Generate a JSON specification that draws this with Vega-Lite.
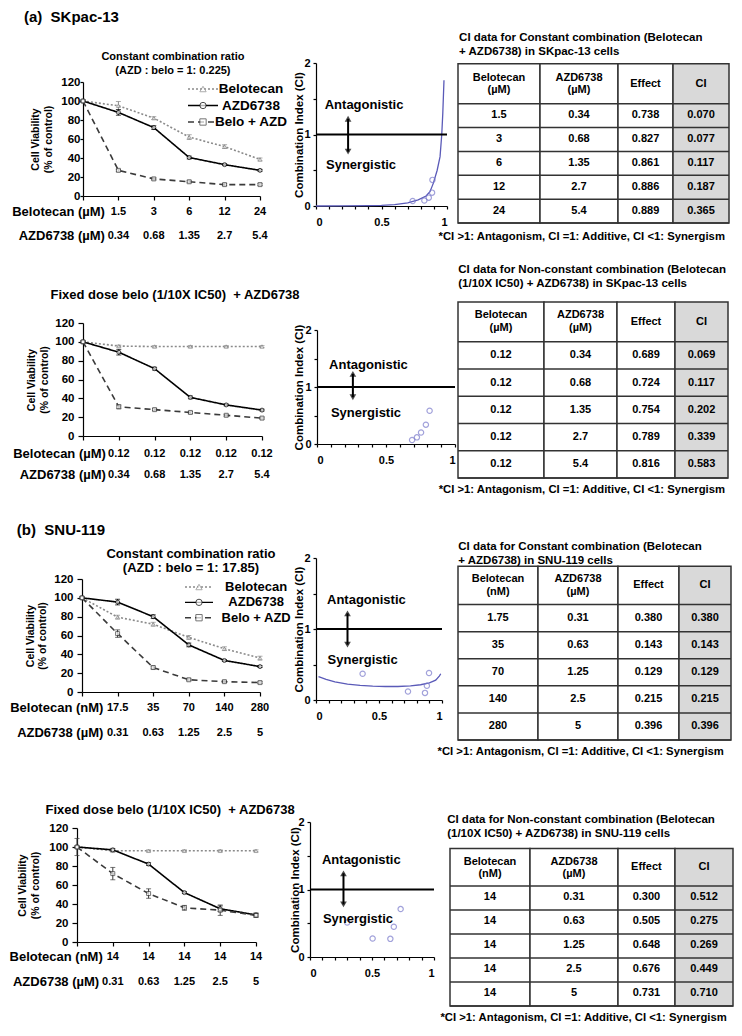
{
"$schema":"https://vega.github.io/schema/vega-lite/v6.json",
"width":742,"height":1036,"autosize":"none","padding":0,"background":"white",
"config":{"view":{"stroke":null},"font":"Liberation Sans",
 "axis":{"grid":false,"domainColor":"#000","tickColor":"#000","labelColor":"#000","titleColor":"#000","labelFont":"Liberation Sans","titleFont":"Liberation Sans","labelFontWeight":"bold","titleFontWeight":"bold","domainWidth":1.2,"tickWidth":1.2},
 "text":{"font":"Liberation Sans","fontWeight":"bold","color":"#000"}},
"datasets":{
"one":[{}],
"leg":[{"s":"Belotecan"},{"s":"AZD6738"},{"s":"Belo + AZD"}],
"L1":[
{"i":0,"s":"Belotecan","v":100,"lo":99,"hi":101},{"i":1,"s":"Belotecan","v":95,"lo":90.5,"hi":99.5},{"i":2,"s":"Belotecan","v":82,"lo":80.5,"hi":83.5},{"i":3,"s":"Belotecan","v":62,"lo":59.5,"hi":64.5},{"i":4,"s":"Belotecan","v":52,"lo":50,"hi":54},{"i":5,"s":"Belotecan","v":38.5,"lo":37,"hi":40},
{"i":0,"s":"AZD6738","v":100,"lo":99,"hi":101},{"i":1,"s":"AZD6738","v":88,"lo":85,"hi":91},{"i":2,"s":"AZD6738","v":72,"lo":70,"hi":74},{"i":3,"s":"AZD6738","v":40.5,"lo":39,"hi":42},{"i":4,"s":"AZD6738","v":33,"lo":32,"hi":34},{"i":5,"s":"AZD6738","v":27,"lo":26,"hi":28},
{"i":0,"s":"Belo + AZD","v":100,"lo":99,"hi":101},{"i":1,"s":"Belo + AZD","v":27,"lo":26,"hi":28},{"i":2,"s":"Belo + AZD","v":18,"lo":17,"hi":19},{"i":3,"s":"Belo + AZD","v":15,"lo":14,"hi":16},{"i":4,"s":"Belo + AZD","v":12,"lo":11,"hi":13},{"i":5,"s":"Belo + AZD","v":12,"lo":11,"hi":13}],
"L2":[
{"i":0,"s":"Belotecan","v":100,"lo":99,"hi":101},{"i":1,"s":"Belotecan","v":95.5,"lo":94.5,"hi":96.5},{"i":2,"s":"Belotecan","v":95,"lo":94,"hi":96},{"i":3,"s":"Belotecan","v":95,"lo":94,"hi":96},{"i":4,"s":"Belotecan","v":95,"lo":94,"hi":96},{"i":5,"s":"Belotecan","v":95,"lo":94,"hi":96},
{"i":0,"s":"AZD6738","v":100,"lo":99,"hi":101},{"i":1,"s":"AZD6738","v":89,"lo":86,"hi":92},{"i":2,"s":"AZD6738","v":71.5,"lo":70,"hi":73},{"i":3,"s":"AZD6738","v":41,"lo":39.5,"hi":42.5},{"i":4,"s":"AZD6738","v":33,"lo":32,"hi":34},{"i":5,"s":"AZD6738","v":27.5,"lo":26.5,"hi":28.5},
{"i":0,"s":"Belo + AZD","v":100,"lo":99,"hi":101},{"i":1,"s":"Belo + AZD","v":31,"lo":29,"hi":33},{"i":2,"s":"Belo + AZD","v":28,"lo":27,"hi":29},{"i":3,"s":"Belo + AZD","v":25,"lo":24,"hi":26},{"i":4,"s":"Belo + AZD","v":22,"lo":21,"hi":23},{"i":5,"s":"Belo + AZD","v":19,"lo":18,"hi":20}],
"L3":[
{"i":0,"s":"Belotecan","v":100,"lo":98.5,"hi":101.5},{"i":1,"s":"Belotecan","v":79.5,"lo":77.5,"hi":81.5},{"i":2,"s":"Belotecan","v":72,"lo":70,"hi":74},{"i":3,"s":"Belotecan","v":58,"lo":56,"hi":60},{"i":4,"s":"Belotecan","v":46,"lo":44,"hi":48},{"i":5,"s":"Belotecan","v":36,"lo":34,"hi":38},
{"i":0,"s":"AZD6738","v":100,"lo":99,"hi":101},{"i":1,"s":"AZD6738","v":95.5,"lo":92.5,"hi":98.5},{"i":2,"s":"AZD6738","v":80,"lo":78,"hi":82},{"i":3,"s":"AZD6738","v":50,"lo":48,"hi":52},{"i":4,"s":"AZD6738","v":33.5,"lo":32.5,"hi":34.5},{"i":5,"s":"AZD6738","v":27,"lo":26,"hi":28},
{"i":0,"s":"Belo + AZD","v":100,"lo":99,"hi":101},{"i":1,"s":"Belo + AZD","v":62,"lo":58,"hi":66},{"i":2,"s":"Belo + AZD","v":26,"lo":24.5,"hi":27.5},{"i":3,"s":"Belo + AZD","v":13,"lo":12,"hi":14},{"i":4,"s":"Belo + AZD","v":11,"lo":10,"hi":12},{"i":5,"s":"Belo + AZD","v":10,"lo":9,"hi":11}],
"L4":[
{"i":0,"s":"Belotecan","v":100,"lo":99,"hi":101},{"i":1,"s":"Belotecan","v":96,"lo":95,"hi":97},{"i":2,"s":"Belotecan","v":96,"lo":95,"hi":97},{"i":3,"s":"Belotecan","v":96,"lo":95,"hi":97},{"i":4,"s":"Belotecan","v":96,"lo":95,"hi":97},{"i":5,"s":"Belotecan","v":96,"lo":95,"hi":97},
{"i":0,"s":"AZD6738","v":100,"lo":99,"hi":101},{"i":1,"s":"AZD6738","v":97,"lo":95.5,"hi":98.5},{"i":2,"s":"AZD6738","v":82,"lo":80.5,"hi":83.5},{"i":3,"s":"AZD6738","v":52,"lo":51,"hi":53},{"i":4,"s":"AZD6738","v":35,"lo":32,"hi":38},{"i":5,"s":"AZD6738","v":28.5,"lo":26.5,"hi":30.5},
{"i":0,"s":"Belo + AZD","v":100,"lo":91,"hi":109},{"i":1,"s":"Belo + AZD","v":72,"lo":65.5,"hi":78.5},{"i":2,"s":"Belo + AZD","v":51,"lo":46,"hi":56},{"i":3,"s":"Belo + AZD","v":36,"lo":33.5,"hi":38.5},{"i":4,"s":"Belo + AZD","v":33.5,"lo":28,"hi":39},{"i":5,"s":"Belo + AZD","v":28,"lo":26,"hi":30}],
"L1lab":[{"i":1,"b":1.5,"a":0.34},{"i":2,"b":3,"a":0.68},{"i":3,"b":6,"a":1.35},{"i":4,"b":12,"a":2.7},{"i":5,"b":24,"a":5.4}],
"L2lab":[{"i":1,"b":0.12,"a":0.34},{"i":2,"b":0.12,"a":0.68},{"i":3,"b":0.12,"a":1.35},{"i":4,"b":0.12,"a":2.7},{"i":5,"b":0.12,"a":5.4}],
"L3lab":[{"i":1,"b":17.5,"a":0.31},{"i":2,"b":35,"a":0.63},{"i":3,"b":70,"a":1.25},{"i":4,"b":140,"a":2.5},{"i":5,"b":280,"a":5}],
"L4lab":[{"i":1,"b":14,"a":0.31},{"i":2,"b":14,"a":0.63},{"i":3,"b":14,"a":1.25},{"i":4,"b":14,"a":2.5},{"i":5,"b":14,"a":5}],
"T1":[{"r":1,"b":1.5,"a":0.34,"eff":0.738,"ci":0.070},{"r":2,"b":3,"a":0.68,"eff":0.827,"ci":0.077},{"r":3,"b":6,"a":1.35,"eff":0.861,"ci":0.117},{"r":4,"b":12,"a":2.7,"eff":0.886,"ci":0.187},{"r":5,"b":24,"a":5.4,"eff":0.889,"ci":0.365}],
"T2":[{"r":1,"b":0.12,"a":0.34,"eff":0.689,"ci":0.069},{"r":2,"b":0.12,"a":0.68,"eff":0.724,"ci":0.117},{"r":3,"b":0.12,"a":1.35,"eff":0.754,"ci":0.202},{"r":4,"b":0.12,"a":2.7,"eff":0.789,"ci":0.339},{"r":5,"b":0.12,"a":5.4,"eff":0.816,"ci":0.583}],
"T3":[{"r":1,"b":1.75,"a":0.31,"eff":0.380,"ci":0.380},{"r":2,"b":35,"a":0.63,"eff":0.143,"ci":0.143},{"r":3,"b":70,"a":1.25,"eff":0.129,"ci":0.129},{"r":4,"b":140,"a":2.5,"eff":0.215,"ci":0.215},{"r":5,"b":280,"a":5,"eff":0.396,"ci":0.396}],
"T4":[{"r":1,"b":14,"a":0.31,"eff":0.300,"ci":0.512},{"r":2,"b":14,"a":0.63,"eff":0.505,"ci":0.275},{"r":3,"b":14,"a":1.25,"eff":0.648,"ci":0.269},{"r":4,"b":14,"a":2.5,"eff":0.676,"ci":0.449},{"r":5,"b":14,"a":5,"eff":0.731,"ci":0.710}],
"C1c":[{"fa":0,"ci":0},{"fa":0.2,"ci":0.001},{"fa":0.4,"ci":0.005},{"fa":0.5,"ci":0.01},{"fa":0.6,"ci":0.02},{"fa":0.7,"ci":0.045},{"fa":0.78,"ci":0.085},{"fa":0.84,"ci":0.14},{"fa":0.87,"ci":0.2},{"fa":0.896,"ci":0.32},{"fa":0.925,"ci":0.5},{"fa":0.947,"ci":0.69},{"fa":0.96,"ci":1.0},{"fa":0.968,"ci":1.3},{"fa":0.977,"ci":1.76}],
"C3c":[{"fa":0.02,"ci":0.33},{"fa":0.08,"ci":0.29},{"fa":0.15,"ci":0.255},{"fa":0.25,"ci":0.225},{"fa":0.35,"ci":0.205},{"fa":0.45,"ci":0.195},{"fa":0.55,"ci":0.19},{"fa":0.65,"ci":0.19},{"fa":0.75,"ci":0.2},{"fa":0.83,"ci":0.215},{"fa":0.9,"ci":0.24},{"fa":0.95,"ci":0.28},{"fa":0.98,"ci":0.34},{"fa":0.99,"ci":0.37}],
"C3p":[{"fa":0.37,"ci":0.37},{"fa":0.73,"ci":0.12},{"fa":0.865,"ci":0.1},{"fa":0.88,"ci":0.2},{"fa":0.897,"ci":0.38}]
},
"resolve":{"scale":{"x":"independent","y":"independent"}},
"layer":[
{"layer":[
 {"data":{"name":"L1"},"mark":{"type":"line","strokeWidth":1.6},
  "encoding":{
   "x":{"field":"i","type":"quantitative","scale":{"domain":[0,5],"range":[83,260]},"axis":{"orient":"bottom","offset":-840,"values":[0,1,2,3,4,5],"labels":false,"tickSize":4,"title":null}},
   "y":{"field":"v","type":"quantitative","scale":{"domain":[0,120],"range":[196,82]},"axis":{"orient":"left","offset":-83,"values":[0,20,40,60,80,100,120],"tickSize":3,"labelPadding":0,"labelFontSize":11.5,"title":["Cell Viability","(% of control)"],"titleFontSize":10.5,"titleLineHeight":12.5,"titleX":-42.5}},
   "color":{"field":"s","type":"nominal","scale":{"domain":["Belotecan","AZD6738","Belo + AZD"],"range":["#8a8a8a","#000000","#3a3a3a"]},"legend":null},
   "strokeDash":{"field":"s","type":"nominal","scale":{"domain":["Belotecan","AZD6738","Belo + AZD"],"range":[[2,2],[1,0],[6,4]]},"legend":null}}},
 {"data":{"name":"L1"},"mark":{"type":"rule","strokeWidth":1},
  "encoding":{"x":{"field":"i","type":"quantitative"},"y":{"field":"lo","type":"quantitative"},"y2":{"field":"hi"},"color":{"field":"s","type":"nominal","legend":null}}},
 {"data":{"name":"L1"},"mark":{"type":"tick","orient":"horizontal","size":5,"thickness":1},
  "encoding":{"x":{"field":"i","type":"quantitative"},"y":{"field":"lo","type":"quantitative"},"color":{"field":"s","type":"nominal","legend":null}}},
 {"data":{"name":"L1"},"mark":{"type":"tick","orient":"horizontal","size":5,"thickness":1},
  "encoding":{"x":{"field":"i","type":"quantitative"},"y":{"field":"hi","type":"quantitative"},"color":{"field":"s","type":"nominal","legend":null}}},
 {"data":{"name":"L1"},"mark":{"type":"point","filled":false,"fill":"white","size":16,"strokeWidth":1},
  "encoding":{"x":{"field":"i","type":"quantitative"},"y":{"field":"v","type":"quantitative"},"color":{"field":"s","type":"nominal","legend":null},"shape":{"field":"s","type":"nominal","scale":{"domain":["Belotecan","AZD6738","Belo + AZD"],"range":["triangle-up","circle","square"]},"legend":null}}},
 {"data":{"name":"L1lab"},"mark":{"type":"text","fontSize":11,"baseline":"middle"},
  "encoding":{"x":{"field":"i","type":"quantitative"},"y":{"datum":-16.8},"text":{"field":"b","type":"nominal"}}},
 {"data":{"name":"L1lab"},"mark":{"type":"text","fontSize":11,"baseline":"middle"},
  "encoding":{"x":{"field":"i","type":"quantitative"},"y":{"datum":-42},"text":{"field":"a","type":"nominal"}}},
 {"data":{"name":"one"},"mark":{"type":"text","text":"Belotecan (µM)","fontSize":13,"align":"right","baseline":"middle"},
  "encoding":{"x":{"datum":0.62},"y":{"datum":-16.8}}},
 {"data":{"name":"one"},"mark":{"type":"text","text":"AZD6738 (µM)","fontSize":13,"align":"right","baseline":"middle"},
  "encoding":{"x":{"datum":0.62},"y":{"datum":-42}}},
 {"data":{"name":"one"},"mark":{"type":"text","text":["Constant combination ratio","(AZD : belo = 1: 0.225)"],"fontSize":11,"lineHeight":13.5,"align":"center","baseline":"middle"},
  "encoding":{"x":{"datum":2.54},"y":{"datum":146.3}}},
 {"data":{"name":"one"},"mark":{"type":"text","text":"(a)\u00a0 SKpac-13","fontSize":15,"align":"left","baseline":"middle"},
  "encoding":{"x":{"datum":-1.67},"y":{"datum":188.4}}}
]},
{"data":{"name":"leg"},
 "encoding":{"y":{"field":"s","type":"nominal","scale":{"type":"point","domain":["Belotecan","AZD6738","Belo + AZD"],"range":[89,122],"padding":0},"axis":null}},
 "layer":[
  {"mark":{"type":"rule","strokeWidth":1.4},"encoding":{"x":{"datum":0,"scale":{"domain":[0,1],"range":[188,218]},"axis":null},"x2":{"datum":1},"color":{"field":"s","type":"nominal","legend":null},"strokeDash":{"field":"s","type":"nominal","legend":null}}},
  {"mark":{"type":"point","filled":false,"fill":"white","size":40,"strokeWidth":1},"encoding":{"x":{"datum":0.5,"axis":null},"color":{"field":"s","type":"nominal","legend":null},"shape":{"field":"s","type":"nominal","legend":null}}},
  {"mark":{"type":"text","fontSize":13.5,"align":"center","baseline":"middle"},"encoding":{"x":{"datum":2.1,"axis":null},"text":{"field":"s","type":"nominal"}}}
 ]},
{"layer":[
 {"data":{"name":"C1c"},"mark":{"type":"line","color":"#5a5ab8","strokeWidth":1.3},
  "encoding":{
   "x":{"field":"fa","type":"quantitative","scale":{"domain":[0,1],"range":[316,447]},"axis":{"orient":"bottom","offset":-830,"values":[0,0.1,0.2,0.3,0.4,0.5,0.6,0.7,0.8,0.9,1],"format":"~g","labelExpr":"datum.value == 0 || datum.value == 0.5 || datum.value == 1 ? datum.label : ''","labelOverlap":false,"tickSize":3,"labelFontSize":11,"labelPadding":7,"title":null}},
   "y":{"field":"ci","type":"quantitative","scale":{"domain":[0,2],"range":[206,63]},"axis":{"orient":"left","offset":-316,"values":[0,0.5,1,1.5,2],"format":"~g","labelExpr":"datum.value == 0 || datum.value == 1 || datum.value == 2 ? datum.label : ''","labelOverlap":false,"tickSize":3,"labelFontSize":11,"labelPadding":3,"title":"Combination Index (CI)","titleFontSize":11.5,"titleX":-14,"titleBaseline":"alphabetic"}}}},
 {"data":{"name":"T1"},"mark":{"type":"point","filled":false,"color":"#7b7bcc","size":28,"strokeWidth":1.2},"encoding":{"x":{"field":"eff","type":"quantitative"},"y":{"field":"ci","type":"quantitative"}}},
 {"data":{"name":"one"},"mark":{"type":"rule","color":"#000","strokeWidth":2},"encoding":{"x":{"datum":0},"x2":{"datum":1},"y":{"datum":1}}},
 {"data":{"name":"one"},"mark":{"type":"rule","color":"#000","strokeWidth":2},"encoding":{"x":{"datum":0.245},"y":{"datum":0.76},"y2":{"datum":1.22}}},
 {"data":{"name":"one"},"mark":{"type":"point","shape":"triangle-up","filled":true,"color":"#000","size":45},"encoding":{"x":{"datum":0.245},"y":{"datum":1.22}}},
 {"data":{"name":"one"},"mark":{"type":"point","shape":"triangle-down","filled":true,"color":"#000","size":45},"encoding":{"x":{"datum":0.245},"y":{"datum":0.76}}},
 {"data":{"name":"one"},"mark":{"type":"text","text":"Antagonistic","fontSize":13,"align":"center","baseline":"middle"},"encoding":{"x":{"datum":0.367},"y":{"datum":1.41}}},
 {"data":{"name":"one"},"mark":{"type":"text","text":"Synergistic","fontSize":13,"align":"center","baseline":"middle"},"encoding":{"x":{"datum":0.344},"y":{"datum":0.573}}}
]},
{"layer":[
 {"data":{"name":"one"},"mark":{"type":"rect","fill":"white","stroke":"#333","strokeWidth":1.5},"encoding":{"x":{"datum":0,"scale":{"domain":[0,1],"range":[458,729]},"axis":null},"x2":{"datum":0.3026},"y":{"datum":-1.68,"scale":{"domain":[-1.68,5],"range":[56,223]},"axis":null},"y2":{"datum":5}}},
 {"data":{"name":"one"},"mark":{"type":"rect","fill":"white","stroke":"#333","strokeWidth":1.5},"encoding":{"x":{"datum":0.3026,"axis":null},"x2":{"datum":0.5904},"y":{"datum":-1.68,"axis":null},"y2":{"datum":5}}},
 {"data":{"name":"one"},"mark":{"type":"rect","fill":"white","stroke":"#333","strokeWidth":1.5},"encoding":{"x":{"datum":0.5904,"axis":null},"x2":{"datum":0.7934},"y":{"datum":-1.68,"axis":null},"y2":{"datum":5}}},
 {"data":{"name":"one"},"mark":{"type":"rect","fill":"#d9d9d9","stroke":"#333","strokeWidth":1.5},"encoding":{"x":{"datum":0.7934,"axis":null},"x2":{"datum":1},"y":{"datum":-1.68,"axis":null},"y2":{"datum":5}}},
 {"data":{"name":"one"},"mark":{"type":"rule","color":"#333","strokeWidth":1.5},"encoding":{"x":{"datum":0,"axis":null},"x2":{"datum":1},"y":{"datum":0,"axis":null}}},
 {"data":{"name":"T1"},"mark":{"type":"rule","color":"#333","strokeWidth":1.5},"encoding":{"x":{"datum":0,"axis":null},"x2":{"datum":1},"y":{"field":"r","type":"quantitative","axis":null}}},
 {"data":{"name":"one"},"mark":{"type":"text","text":["Belotecan","(µM)"],"fontSize":11,"lineHeight":12.5,"baseline":"middle"},"encoding":{"x":{"datum":0.1513,"axis":null},"y":{"datum":-1.092,"axis":null}}},
 {"data":{"name":"one"},"mark":{"type":"text","text":["AZD6738","(µM)"],"fontSize":11,"lineHeight":12.5,"baseline":"middle"},"encoding":{"x":{"datum":0.4465,"axis":null},"y":{"datum":-1.092,"axis":null}}},
 {"data":{"name":"one"},"mark":{"type":"text","text":"Effect","fontSize":11,"baseline":"middle"},"encoding":{"x":{"datum":0.6919,"axis":null},"y":{"datum":-0.84,"axis":null}}},
 {"data":{"name":"one"},"mark":{"type":"text","text":"CI","fontSize":11,"baseline":"middle"},"encoding":{"x":{"datum":0.8967,"axis":null},"y":{"datum":-0.84,"axis":null}}},
 {"data":{"name":"T1"},"mark":{"type":"text","fontSize":11,"baseline":"middle","dy":-12.5},"encoding":{"x":{"datum":0.1513,"axis":null},"y":{"field":"r","type":"quantitative","axis":null},"text":{"field":"b","type":"nominal"}}},
 {"data":{"name":"T1"},"mark":{"type":"text","fontSize":11,"baseline":"middle","dy":-12.5},"encoding":{"x":{"datum":0.4465,"axis":null},"y":{"field":"r","type":"quantitative","axis":null},"text":{"field":"a","type":"nominal"}}},
 {"data":{"name":"T1"},"mark":{"type":"text","fontSize":11,"baseline":"middle","dy":-12.5},"encoding":{"x":{"datum":0.6919,"axis":null},"y":{"field":"r","type":"quantitative","axis":null},"text":{"field":"eff","type":"quantitative","format":".3f"}}},
 {"data":{"name":"T1"},"mark":{"type":"text","fontSize":11,"baseline":"middle","dy":-12.5},"encoding":{"x":{"datum":0.8967,"axis":null},"y":{"field":"r","type":"quantitative","axis":null},"text":{"field":"ci","type":"quantitative","format":".3f"}}},
 {"data":{"name":"one"},"mark":{"type":"text","text":["CI data for Constant combination (Belotecan","+ AZD6738) in SKpac-13 cells"],"fontSize":11.5,"lineHeight":14,"align":"left","baseline":"middle"},"encoding":{"x":{"datum":0.004,"axis":null},"y":{"datum":-2.76,"axis":null}}},
 {"data":{"name":"one"},"mark":{"type":"text","text":"*CI >1: Antagonism, CI =1: Additive, CI <1: Synergism","fontSize":11.3,"align":"right","baseline":"middle"},"encoding":{"x":{"datum":0.985,"axis":null},"y":{"datum":5.6,"axis":null}}}
]},
{"layer":[
 {"data":{"name":"L2"},"mark":{"type":"line","strokeWidth":1.6},
  "encoding":{
   "x":{"field":"i","type":"quantitative","scale":{"domain":[0,5],"range":[83,262]},"axis":{"orient":"bottom","offset":-600,"values":[0,1,2,3,4,5],"labels":false,"tickSize":4,"title":null}},
   "y":{"field":"v","type":"quantitative","scale":{"domain":[0,120],"range":[436,323]},"axis":{"orient":"left","offset":-83,"values":[0,20,40,60,80,100,120],"tickSize":5,"labelPadding":4,"labelFontSize":11.5,"title":["Cell Viability","(% of control)"],"titleFontSize":10.5,"titleLineHeight":12.5,"titleX":-46.5}},
   "color":{"field":"s","type":"nominal","legend":null},
   "strokeDash":{"field":"s","type":"nominal","legend":null}}},
 {"data":{"name":"L2"},"mark":{"type":"rule","strokeWidth":1},
  "encoding":{"x":{"field":"i","type":"quantitative"},"y":{"field":"lo","type":"quantitative"},"y2":{"field":"hi"},"color":{"field":"s","type":"nominal","legend":null}}},
 {"data":{"name":"L2"},"mark":{"type":"tick","orient":"horizontal","size":5,"thickness":1},
  "encoding":{"x":{"field":"i","type":"quantitative"},"y":{"field":"lo","type":"quantitative"},"color":{"field":"s","type":"nominal","legend":null}}},
 {"data":{"name":"L2"},"mark":{"type":"tick","orient":"horizontal","size":5,"thickness":1},
  "encoding":{"x":{"field":"i","type":"quantitative"},"y":{"field":"hi","type":"quantitative"},"color":{"field":"s","type":"nominal","legend":null}}},
 {"data":{"name":"L2"},"mark":{"type":"point","filled":false,"fill":"white","size":16,"strokeWidth":1},
  "encoding":{"x":{"field":"i","type":"quantitative"},"y":{"field":"v","type":"quantitative"},"color":{"field":"s","type":"nominal","legend":null},"shape":{"field":"s","type":"nominal","legend":null}}},
 {"data":{"name":"L2lab"},"mark":{"type":"text","fontSize":11,"baseline":"middle"},
  "encoding":{"x":{"field":"i","type":"quantitative"},"y":{"datum":-19.1},"text":{"field":"b","type":"nominal"}}},
 {"data":{"name":"L2lab"},"mark":{"type":"text","fontSize":11,"baseline":"middle"},
  "encoding":{"x":{"field":"i","type":"quantitative"},"y":{"datum":-41.4},"text":{"field":"a","type":"nominal"}}},
 {"data":{"name":"one"},"mark":{"type":"text","text":"Belotecan (µM)","fontSize":13,"align":"right","baseline":"middle"},
  "encoding":{"x":{"datum":0.64},"y":{"datum":-19.1}}},
 {"data":{"name":"one"},"mark":{"type":"text","text":"AZD6738 (µM)","fontSize":13,"align":"right","baseline":"middle"},
  "encoding":{"x":{"datum":0.64},"y":{"datum":-41.4}}},
 {"data":{"name":"one"},"mark":{"type":"text","text":"Fixed dose belo (1/10X IC50)\u00a0 + AZD6738","fontSize":13,"align":"center","baseline":"middle"},
  "encoding":{"x":{"datum":2.57},"y":{"datum":149.7}}}
]},
{"layer":[
 {"data":{"name":"T2"},"mark":{"type":"point","filled":false,"color":"#7b7bcc","size":28,"strokeWidth":1.2},
  "encoding":{
   "x":{"field":"eff","type":"quantitative","scale":{"domain":[0,1],"range":[317,455]},"axis":{"orient":"bottom","offset":-592,"values":[0,0.1,0.2,0.3,0.4,0.5,0.6,0.7,0.8,0.9,1],"format":"~g","labelExpr":"datum.value == 0 || datum.value == 0.5 || datum.value == 1 ? datum.label : ''","labelOverlap":false,"tickSize":3,"labelFontSize":11,"labelPadding":7,"title":null}},
   "y":{"field":"ci","type":"quantitative","scale":{"domain":[0,2],"range":[444,330]},"axis":{"orient":"left","offset":-317,"values":[0,0.5,1,1.5,2],"format":"~g","labelExpr":"datum.value == 0 || datum.value == 1 || datum.value == 2 ? datum.label : ''","labelOverlap":false,"tickSize":3,"labelFontSize":11,"labelPadding":3,"title":"Combination Index (CI)","titleFontSize":11.5,"titleX":-15,"titleBaseline":"alphabetic"}}}},
 {"data":{"name":"one"},"mark":{"type":"rule","color":"#000","strokeWidth":2},"encoding":{"x":{"datum":0},"x2":{"datum":1},"y":{"datum":1}}},
 {"data":{"name":"one"},"mark":{"type":"rule","color":"#000","strokeWidth":2},"encoding":{"x":{"datum":0.26},"y":{"datum":0.82},"y2":{"datum":1.23}}},
 {"data":{"name":"one"},"mark":{"type":"point","shape":"triangle-up","filled":true,"color":"#000","size":45},"encoding":{"x":{"datum":0.26},"y":{"datum":1.23}}},
 {"data":{"name":"one"},"mark":{"type":"point","shape":"triangle-down","filled":true,"color":"#000","size":45},"encoding":{"x":{"datum":0.26},"y":{"datum":0.82}}},
 {"data":{"name":"one"},"mark":{"type":"text","text":"Antagonistic","fontSize":13,"align":"center","baseline":"middle"},"encoding":{"x":{"datum":0.373},"y":{"datum":1.386}}},
 {"data":{"name":"one"},"mark":{"type":"text","text":"Synergistic","fontSize":13,"align":"center","baseline":"middle"},"encoding":{"x":{"datum":0.355},"y":{"datum":0.54}}}
]},
{"layer":[
 {"data":{"name":"one"},"mark":{"type":"rect","fill":"white","stroke":"#333","strokeWidth":1.5},"encoding":{"x":{"datum":0,"scale":{"domain":[0,1],"range":[458,728]},"axis":null},"x2":{"datum":0.3185},"y":{"datum":-1.46,"scale":{"domain":[-1.46,5],"range":[301,478]},"axis":null},"y2":{"datum":5}}},
 {"data":{"name":"one"},"mark":{"type":"rect","fill":"white","stroke":"#333","strokeWidth":1.5},"encoding":{"x":{"datum":0.3185,"axis":null},"x2":{"datum":0.5889},"y":{"datum":-1.46,"axis":null},"y2":{"datum":5}}},
 {"data":{"name":"one"},"mark":{"type":"rect","fill":"white","stroke":"#333","strokeWidth":1.5},"encoding":{"x":{"datum":0.5889,"axis":null},"x2":{"datum":0.8037},"y":{"datum":-1.46,"axis":null},"y2":{"datum":5}}},
 {"data":{"name":"one"},"mark":{"type":"rect","fill":"#d9d9d9","stroke":"#333","strokeWidth":1.5},"encoding":{"x":{"datum":0.8037,"axis":null},"x2":{"datum":1},"y":{"datum":-1.46,"axis":null},"y2":{"datum":5}}},
 {"data":{"name":"one"},"mark":{"type":"rule","color":"#333","strokeWidth":1.5},"encoding":{"x":{"datum":0,"axis":null},"x2":{"datum":1},"y":{"datum":0,"axis":null}}},
 {"data":{"name":"T2"},"mark":{"type":"rule","color":"#333","strokeWidth":1.5},"encoding":{"x":{"datum":0,"axis":null},"x2":{"datum":1},"y":{"field":"r","type":"quantitative","axis":null}}},
 {"data":{"name":"one"},"mark":{"type":"text","text":["Belotecan","(µM)"],"fontSize":11,"lineHeight":12.5,"baseline":"middle"},"encoding":{"x":{"datum":0.1593,"axis":null},"y":{"datum":-0.975,"axis":null}}},
 {"data":{"name":"one"},"mark":{"type":"text","text":["AZD6738","(µM)"],"fontSize":11,"lineHeight":12.5,"baseline":"middle"},"encoding":{"x":{"datum":0.4537,"axis":null},"y":{"datum":-0.975,"axis":null}}},
 {"data":{"name":"one"},"mark":{"type":"text","text":"Effect","fontSize":11,"baseline":"middle"},"encoding":{"x":{"datum":0.6963,"axis":null},"y":{"datum":-0.73,"axis":null}}},
 {"data":{"name":"one"},"mark":{"type":"text","text":"CI","fontSize":11,"baseline":"middle"},"encoding":{"x":{"datum":0.9019,"axis":null},"y":{"datum":-0.73,"axis":null}}},
 {"data":{"name":"T2"},"mark":{"type":"text","fontSize":11,"baseline":"middle","dy":-13.7},"encoding":{"x":{"datum":0.1593,"axis":null},"y":{"field":"r","type":"quantitative","axis":null},"text":{"field":"b","type":"nominal"}}},
 {"data":{"name":"T2"},"mark":{"type":"text","fontSize":11,"baseline":"middle","dy":-13.7},"encoding":{"x":{"datum":0.4537,"axis":null},"y":{"field":"r","type":"quantitative","axis":null},"text":{"field":"a","type":"nominal"}}},
 {"data":{"name":"T2"},"mark":{"type":"text","fontSize":11,"baseline":"middle","dy":-13.7},"encoding":{"x":{"datum":0.6963,"axis":null},"y":{"field":"r","type":"quantitative","axis":null},"text":{"field":"eff","type":"quantitative","format":".3f"}}},
 {"data":{"name":"T2"},"mark":{"type":"text","fontSize":11,"baseline":"middle","dy":-13.7},"encoding":{"x":{"datum":0.9019,"axis":null},"y":{"field":"r","type":"quantitative","axis":null},"text":{"field":"ci","type":"quantitative","format":".3f"}}},
 {"data":{"name":"one"},"mark":{"type":"text","text":["CI data for Non-constant combination (Belotecan","(1/10X IC50) + AZD6738) in SKpac-13 cells"],"fontSize":11.5,"lineHeight":14,"align":"left","baseline":"middle"},"encoding":{"x":{"datum":0.001,"axis":null},"y":{"datum":-2.628,"axis":null}}},
 {"data":{"name":"one"},"mark":{"type":"text","text":"*CI >1: Antagonism, CI =1: Additive, CI <1: Synergism","fontSize":11.3,"align":"right","baseline":"middle"},"encoding":{"x":{"datum":0.989,"axis":null},"y":{"datum":5.44,"axis":null}}}
]},
{"layer":[
 {"data":{"name":"L3"},"mark":{"type":"line","strokeWidth":1.6},
  "encoding":{
   "x":{"field":"i","type":"quantitative","scale":{"domain":[0,5],"range":[82,260]},"axis":{"orient":"bottom","offset":-344,"values":[0,1,2,3,4,5],"labels":false,"tickSize":4,"title":null}},
   "y":{"field":"v","type":"quantitative","scale":{"domain":[0,120],"range":[692,579]},"axis":{"orient":"left","offset":-82,"values":[0,20,40,60,80,100,120],"tickSize":5,"labelPadding":4,"labelFontSize":11.5,"title":["Cell Viability","(% of control)"],"titleFontSize":10.5,"titleLineHeight":12.5,"titleX":-47}},
   "color":{"field":"s","type":"nominal","legend":null},
   "strokeDash":{"field":"s","type":"nominal","legend":null}}},
 {"data":{"name":"L3"},"mark":{"type":"rule","strokeWidth":1},
  "encoding":{"x":{"field":"i","type":"quantitative"},"y":{"field":"lo","type":"quantitative"},"y2":{"field":"hi"},"color":{"field":"s","type":"nominal","legend":null}}},
 {"data":{"name":"L3"},"mark":{"type":"tick","orient":"horizontal","size":5,"thickness":1},
  "encoding":{"x":{"field":"i","type":"quantitative"},"y":{"field":"lo","type":"quantitative"},"color":{"field":"s","type":"nominal","legend":null}}},
 {"data":{"name":"L3"},"mark":{"type":"tick","orient":"horizontal","size":5,"thickness":1},
  "encoding":{"x":{"field":"i","type":"quantitative"},"y":{"field":"hi","type":"quantitative"},"color":{"field":"s","type":"nominal","legend":null}}},
 {"data":{"name":"L3"},"mark":{"type":"point","filled":false,"fill":"white","size":16,"strokeWidth":1},
  "encoding":{"x":{"field":"i","type":"quantitative"},"y":{"field":"v","type":"quantitative"},"color":{"field":"s","type":"nominal","legend":null},"shape":{"field":"s","type":"nominal","legend":null}}},
 {"data":{"name":"L3lab"},"mark":{"type":"text","fontSize":11,"baseline":"middle"},
  "encoding":{"x":{"field":"i","type":"quantitative"},"y":{"datum":-17},"text":{"field":"b","type":"nominal"}}},
 {"data":{"name":"L3lab"},"mark":{"type":"text","fontSize":11,"baseline":"middle"},
  "encoding":{"x":{"field":"i","type":"quantitative"},"y":{"datum":-43.5},"text":{"field":"a","type":"nominal"}}},
 {"data":{"name":"one"},"mark":{"type":"text","text":"Belotecan (nM)","fontSize":13,"align":"right","baseline":"middle"},
  "encoding":{"x":{"datum":0.6},"y":{"datum":-17}}},
 {"data":{"name":"one"},"mark":{"type":"text","text":"AZD6738 (µM)","fontSize":13,"align":"right","baseline":"middle"},
  "encoding":{"x":{"datum":0.6},"y":{"datum":-43.5}}},
 {"data":{"name":"one"},"mark":{"type":"text","text":["Constant combination ratio","(AZD : belo = 1: 17.85)"],"fontSize":13,"lineHeight":14,"align":"center","baseline":"middle"},
  "encoding":{"x":{"datum":3.06},"y":{"datum":146.5}}},
 {"data":{"name":"one"},"mark":{"type":"text","text":"(b)\u00a0 SNU-119","fontSize":15,"align":"left","baseline":"middle"},
  "encoding":{"x":{"datum":-1.83},"y":{"datum":172}}}
]},
{"data":{"name":"leg"},
 "encoding":{"y":{"field":"s","type":"nominal","scale":{"type":"point","domain":["Belotecan","AZD6738","Belo + AZD"],"range":[587,617.7],"padding":0},"axis":null}},
 "layer":[
  {"mark":{"type":"rule","strokeWidth":1.4},"encoding":{"x":{"datum":0,"scale":{"domain":[0,1],"range":[185,213]},"axis":null},"x2":{"datum":1},"color":{"field":"s","type":"nominal","legend":null},"strokeDash":{"field":"s","type":"nominal","legend":null}}},
  {"mark":{"type":"point","filled":false,"fill":"white","size":40,"strokeWidth":1},"encoding":{"x":{"datum":0.5,"axis":null},"color":{"field":"s","type":"nominal","legend":null},"shape":{"field":"s","type":"nominal","legend":null}}},
  {"mark":{"type":"text","fontSize":13,"align":"center","baseline":"middle"},"encoding":{"x":{"datum":2.54,"axis":null},"text":{"field":"s","type":"nominal"}}}
 ]},
{"layer":[
 {"data":{"name":"C3c"},"mark":{"type":"line","color":"#5a5ab8","strokeWidth":1.3},
  "encoding":{
   "x":{"field":"fa","type":"quantitative","scale":{"domain":[0,1],"range":[316,442]},"axis":{"orient":"bottom","offset":-336,"values":[0,0.1,0.2,0.3,0.4,0.5,0.6,0.7,0.8,0.9,1],"format":"~g","labelExpr":"datum.value == 0 || datum.value == 0.5 || datum.value == 1 ? datum.label : ''","labelOverlap":false,"tickSize":3,"labelFontSize":11,"labelPadding":7,"title":null}},
   "y":{"field":"ci","type":"quantitative","scale":{"domain":[0,2],"range":[700,558]},"axis":{"orient":"left","offset":-316,"values":[0,0.5,1,1.5,2],"format":"~g","labelExpr":"datum.value == 0 || datum.value == 1 || datum.value == 2 ? datum.label : ''","labelOverlap":false,"tickSize":3,"labelFontSize":11,"labelPadding":3,"title":"Combination Index (CI)","titleFontSize":11.5,"titleX":-14,"titleBaseline":"alphabetic"}}}},
 {"data":{"name":"C3p"},"mark":{"type":"point","filled":false,"color":"#7b7bcc","size":28,"strokeWidth":1.2},"encoding":{"x":{"field":"fa","type":"quantitative"},"y":{"field":"ci","type":"quantitative"}}},
 {"data":{"name":"one"},"mark":{"type":"rule","color":"#000","strokeWidth":2},"encoding":{"x":{"datum":0},"x2":{"datum":1},"y":{"datum":1}}},
 {"data":{"name":"one"},"mark":{"type":"rule","color":"#000","strokeWidth":2},"encoding":{"x":{"datum":0.25},"y":{"datum":0.78},"y2":{"datum":1.22}}},
 {"data":{"name":"one"},"mark":{"type":"point","shape":"triangle-up","filled":true,"color":"#000","size":45},"encoding":{"x":{"datum":0.25},"y":{"datum":1.22}}},
 {"data":{"name":"one"},"mark":{"type":"point","shape":"triangle-down","filled":true,"color":"#000","size":45},"encoding":{"x":{"datum":0.25},"y":{"datum":0.78}}},
 {"data":{"name":"one"},"mark":{"type":"text","text":"Antagonistic","fontSize":13,"align":"center","baseline":"middle"},"encoding":{"x":{"datum":0.40},"y":{"datum":1.41}}},
 {"data":{"name":"one"},"mark":{"type":"text","text":"Synergistic","fontSize":13,"align":"center","baseline":"middle"},"encoding":{"x":{"datum":0.37},"y":{"datum":0.56}}}
]},
{"layer":[
 {"data":{"name":"one"},"mark":{"type":"rect","fill":"white","stroke":"#333","strokeWidth":1.5},"encoding":{"x":{"datum":0,"scale":{"domain":[0,1],"range":[458,731]},"axis":null},"x2":{"datum":0.293},"y":{"datum":-1.42,"scale":{"domain":[-1.42,5],"range":[564,740]},"axis":null},"y2":{"datum":5}}},
 {"data":{"name":"one"},"mark":{"type":"rect","fill":"white","stroke":"#333","strokeWidth":1.5},"encoding":{"x":{"datum":0.293,"axis":null},"x2":{"datum":0.586},"y":{"datum":-1.42,"axis":null},"y2":{"datum":5}}},
 {"data":{"name":"one"},"mark":{"type":"rect","fill":"white","stroke":"#333","strokeWidth":1.5},"encoding":{"x":{"datum":0.586,"axis":null},"x2":{"datum":0.8095},"y":{"datum":-1.42,"axis":null},"y2":{"datum":5}}},
 {"data":{"name":"one"},"mark":{"type":"rect","fill":"#d9d9d9","stroke":"#333","strokeWidth":1.5},"encoding":{"x":{"datum":0.8095,"axis":null},"x2":{"datum":1},"y":{"datum":-1.42,"axis":null},"y2":{"datum":5}}},
 {"data":{"name":"one"},"mark":{"type":"rule","color":"#333","strokeWidth":1.5},"encoding":{"x":{"datum":0,"axis":null},"x2":{"datum":1},"y":{"datum":0,"axis":null}}},
 {"data":{"name":"T3"},"mark":{"type":"rule","color":"#333","strokeWidth":1.5},"encoding":{"x":{"datum":0,"axis":null},"x2":{"datum":1},"y":{"field":"r","type":"quantitative","axis":null}}},
 {"data":{"name":"one"},"mark":{"type":"text","text":["Belotecan","(nM)"],"fontSize":11,"lineHeight":12.5,"baseline":"middle"},"encoding":{"x":{"datum":0.1465,"axis":null},"y":{"datum":-0.935,"axis":null}}},
 {"data":{"name":"one"},"mark":{"type":"text","text":["AZD6738","(µM)"],"fontSize":11,"lineHeight":12.5,"baseline":"middle"},"encoding":{"x":{"datum":0.4395,"axis":null},"y":{"datum":-0.935,"axis":null}}},
 {"data":{"name":"one"},"mark":{"type":"text","text":"Effect","fontSize":11,"baseline":"middle"},"encoding":{"x":{"datum":0.6978,"axis":null},"y":{"datum":-0.71,"axis":null}}},
 {"data":{"name":"one"},"mark":{"type":"text","text":"CI","fontSize":11,"baseline":"middle"},"encoding":{"x":{"datum":0.9048,"axis":null},"y":{"datum":-0.71,"axis":null}}},
 {"data":{"name":"T3"},"mark":{"type":"text","fontSize":11,"baseline":"middle","dy":-13.7},"encoding":{"x":{"datum":0.1465,"axis":null},"y":{"field":"r","type":"quantitative","axis":null},"text":{"field":"b","type":"nominal"}}},
 {"data":{"name":"T3"},"mark":{"type":"text","fontSize":11,"baseline":"middle","dy":-13.7},"encoding":{"x":{"datum":0.4395,"axis":null},"y":{"field":"r","type":"quantitative","axis":null},"text":{"field":"a","type":"nominal"}}},
 {"data":{"name":"T3"},"mark":{"type":"text","fontSize":11,"baseline":"middle","dy":-13.7},"encoding":{"x":{"datum":0.6978,"axis":null},"y":{"field":"r","type":"quantitative","axis":null},"text":{"field":"eff","type":"quantitative","format":".3f"}}},
 {"data":{"name":"T3"},"mark":{"type":"text","fontSize":11,"baseline":"middle","dy":-13.7},"encoding":{"x":{"datum":0.9048,"axis":null},"y":{"field":"r","type":"quantitative","axis":null},"text":{"field":"ci","type":"quantitative","format":".3f"}}},
 {"data":{"name":"one"},"mark":{"type":"text","text":["CI data for Constant combination (Belotecan","+ AZD6738) in SNU-119 cells"],"fontSize":11.5,"lineHeight":14,"align":"left","baseline":"middle"},"encoding":{"x":{"datum":0.001,"axis":null},"y":{"datum":-2.11,"axis":null}}},
 {"data":{"name":"one"},"mark":{"type":"text","text":"*CI >1: Antagonism, CI =1: Additive, CI <1: Synergism","fontSize":11.3,"align":"right","baseline":"middle"},"encoding":{"x":{"datum":0.974,"axis":null},"y":{"datum":5.46,"axis":null}}}
]},
{"layer":[
 {"data":{"name":"L4"},"mark":{"type":"line","strokeWidth":1.6},
  "encoding":{
   "x":{"field":"i","type":"quantitative","scale":{"domain":[0,5],"range":[77,256]},"axis":{"orient":"bottom","offset":-94,"values":[0,1,2,3,4,5],"labels":false,"tickSize":4,"title":null}},
   "y":{"field":"v","type":"quantitative","scale":{"domain":[0,120],"range":[942,828]},"axis":{"orient":"left","offset":-77,"values":[0,20,40,60,80,100,120],"tickSize":5,"labelPadding":4,"labelFontSize":11.5,"title":["Cell Viability","(% of control)"],"titleFontSize":10.5,"titleLineHeight":12.5,"titleX":-49.5}},
   "color":{"field":"s","type":"nominal","legend":null},
   "strokeDash":{"field":"s","type":"nominal","legend":null}}},
 {"data":{"name":"L4"},"mark":{"type":"rule","strokeWidth":1},
  "encoding":{"x":{"field":"i","type":"quantitative"},"y":{"field":"lo","type":"quantitative"},"y2":{"field":"hi"},"color":{"field":"s","type":"nominal","legend":null}}},
 {"data":{"name":"L4"},"mark":{"type":"tick","orient":"horizontal","size":5,"thickness":1},
  "encoding":{"x":{"field":"i","type":"quantitative"},"y":{"field":"lo","type":"quantitative"},"color":{"field":"s","type":"nominal","legend":null}}},
 {"data":{"name":"L4"},"mark":{"type":"tick","orient":"horizontal","size":5,"thickness":1},
  "encoding":{"x":{"field":"i","type":"quantitative"},"y":{"field":"hi","type":"quantitative"},"color":{"field":"s","type":"nominal","legend":null}}},
 {"data":{"name":"L4"},"mark":{"type":"point","filled":false,"fill":"white","size":16,"strokeWidth":1},
  "encoding":{"x":{"field":"i","type":"quantitative"},"y":{"field":"v","type":"quantitative"},"color":{"field":"s","type":"nominal","legend":null},"shape":{"field":"s","type":"nominal","legend":null}}},
 {"data":{"name":"L4lab"},"mark":{"type":"text","fontSize":11,"baseline":"middle"},
  "encoding":{"x":{"field":"i","type":"quantitative"},"y":{"datum":-15.8},"text":{"field":"b","type":"nominal"}}},
 {"data":{"name":"L4lab"},"mark":{"type":"text","fontSize":11,"baseline":"middle"},
  "encoding":{"x":{"field":"i","type":"quantitative"},"y":{"datum":-42.1},"text":{"field":"a","type":"nominal"}}},
 {"data":{"name":"one"},"mark":{"type":"text","text":"Belotecan (nM)","fontSize":13,"align":"right","baseline":"middle"},
  "encoding":{"x":{"datum":0.72},"y":{"datum":-15.8}}},
 {"data":{"name":"one"},"mark":{"type":"text","text":"AZD6738 (µM)","fontSize":13,"align":"right","baseline":"middle"},
  "encoding":{"x":{"datum":0.62},"y":{"datum":-42.1}}},
 {"data":{"name":"one"},"mark":{"type":"text","text":"Fixed dose belo (1/10X IC50)\u00a0 + AZD6738","fontSize":13,"align":"center","baseline":"middle"},
  "encoding":{"x":{"datum":2.6},"y":{"datum":139}}}
]},
{"layer":[
 {"data":{"name":"T4"},"mark":{"type":"point","filled":false,"color":"#7b7bcc","size":28,"strokeWidth":1.2},
  "encoding":{
   "x":{"field":"eff","type":"quantitative","scale":{"domain":[0,1],"range":[310,434]},"axis":{"orient":"bottom","offset":-79,"values":[0,0.1,0.2,0.3,0.4,0.5,0.6,0.7,0.8,0.9,1],"format":"~g","labelExpr":"datum.value == 0 || datum.value == 0.5 || datum.value == 1 ? datum.label : ''","labelOverlap":false,"tickSize":3,"labelFontSize":11,"labelPadding":7,"title":null}},
   "y":{"field":"ci","type":"quantitative","scale":{"domain":[0,2],"range":[957,822]},"axis":{"orient":"left","offset":-310,"values":[0,0.5,1,1.5,2],"format":"~g","labelExpr":"datum.value == 0 || datum.value == 1 || datum.value == 2 ? datum.label : ''","labelOverlap":false,"tickSize":3,"labelFontSize":11,"labelPadding":3,"title":"Combination Index (CI)","titleFontSize":11.5,"titleX":-12,"titleBaseline":"alphabetic"}}}},
 {"data":{"name":"one"},"mark":{"type":"rule","color":"#000","strokeWidth":2},"encoding":{"x":{"datum":0},"x2":{"datum":1},"y":{"datum":1}}},
 {"data":{"name":"one"},"mark":{"type":"rule","color":"#000","strokeWidth":2},"encoding":{"x":{"datum":0.27},"y":{"datum":0.78},"y2":{"datum":1.24}}},
 {"data":{"name":"one"},"mark":{"type":"point","shape":"triangle-up","filled":true,"color":"#000","size":45},"encoding":{"x":{"datum":0.27},"y":{"datum":1.24}}},
 {"data":{"name":"one"},"mark":{"type":"point","shape":"triangle-down","filled":true,"color":"#000","size":45},"encoding":{"x":{"datum":0.27},"y":{"datum":0.78}}},
 {"data":{"name":"one"},"mark":{"type":"text","text":"Antagonistic","fontSize":13,"align":"center","baseline":"middle"},"encoding":{"x":{"datum":0.414},"y":{"datum":1.43}}},
 {"data":{"name":"one"},"mark":{"type":"text","text":"Synergistic","fontSize":13,"align":"center","baseline":"middle"},"encoding":{"x":{"datum":0.387},"y":{"datum":0.56}}}
]},
{"layer":[
 {"data":{"name":"one"},"mark":{"type":"rect","fill":"white","stroke":"#333","strokeWidth":1.5},"encoding":{"x":{"datum":0,"scale":{"domain":[0,1],"range":[450,733]},"axis":null},"x2":{"datum":0.2827},"y":{"datum":-1.5625,"scale":{"domain":[-1.5625,5],"range":[838,1006]},"axis":null},"y2":{"datum":5}}},
 {"data":{"name":"one"},"mark":{"type":"rect","fill":"white","stroke":"#333","strokeWidth":1.5},"encoding":{"x":{"datum":0.2827,"axis":null},"x2":{"datum":0.5936},"y":{"datum":-1.5625,"axis":null},"y2":{"datum":5}}},
 {"data":{"name":"one"},"mark":{"type":"rect","fill":"white","stroke":"#333","strokeWidth":1.5},"encoding":{"x":{"datum":0.5936,"axis":null},"x2":{"datum":0.795},"y":{"datum":-1.5625,"axis":null},"y2":{"datum":5}}},
 {"data":{"name":"one"},"mark":{"type":"rect","fill":"#d9d9d9","stroke":"#333","strokeWidth":1.5},"encoding":{"x":{"datum":0.795,"axis":null},"x2":{"datum":1},"y":{"datum":-1.5625,"axis":null},"y2":{"datum":5}}},
 {"data":{"name":"one"},"mark":{"type":"rule","color":"#333","strokeWidth":1.5},"encoding":{"x":{"datum":0,"axis":null},"x2":{"datum":1},"y":{"datum":0,"axis":null}}},
 {"data":{"name":"T4"},"mark":{"type":"rule","color":"#333","strokeWidth":1.5},"encoding":{"x":{"datum":0,"axis":null},"x2":{"datum":1},"y":{"field":"r","type":"quantitative","axis":null}}},
 {"data":{"name":"one"},"mark":{"type":"text","text":["Belotecan","(nM)"],"fontSize":11,"lineHeight":12.5,"baseline":"middle"},"encoding":{"x":{"datum":0.1413,"axis":null},"y":{"datum":-1.004,"axis":null}}},
 {"data":{"name":"one"},"mark":{"type":"text","text":["AZD6738","(µM)"],"fontSize":11,"lineHeight":12.5,"baseline":"middle"},"encoding":{"x":{"datum":0.438,"axis":null},"y":{"datum":-1.004,"axis":null}}},
 {"data":{"name":"one"},"mark":{"type":"text","text":"Effect","fontSize":11,"baseline":"middle"},"encoding":{"x":{"datum":0.694,"axis":null},"y":{"datum":-0.78,"axis":null}}},
 {"data":{"name":"one"},"mark":{"type":"text","text":"CI","fontSize":11,"baseline":"middle"},"encoding":{"x":{"datum":0.8975,"axis":null},"y":{"datum":-0.78,"axis":null}}},
 {"data":{"name":"T4"},"mark":{"type":"text","fontSize":11,"baseline":"middle","dy":-12.8},"encoding":{"x":{"datum":0.1413,"axis":null},"y":{"field":"r","type":"quantitative","axis":null},"text":{"field":"b","type":"nominal"}}},
 {"data":{"name":"T4"},"mark":{"type":"text","fontSize":11,"baseline":"middle","dy":-12.8},"encoding":{"x":{"datum":0.438,"axis":null},"y":{"field":"r","type":"quantitative","axis":null},"text":{"field":"a","type":"nominal"}}},
 {"data":{"name":"T4"},"mark":{"type":"text","fontSize":11,"baseline":"middle","dy":-12.8},"encoding":{"x":{"datum":0.694,"axis":null},"y":{"field":"r","type":"quantitative","axis":null},"text":{"field":"eff","type":"quantitative","format":".3f"}}},
 {"data":{"name":"T4"},"mark":{"type":"text","fontSize":11,"baseline":"middle","dy":-12.8},"encoding":{"x":{"datum":0.8975,"axis":null},"y":{"field":"r","type":"quantitative","axis":null},"text":{"field":"ci","type":"quantitative","format":".3f"}}},
 {"data":{"name":"one"},"mark":{"type":"text","text":["CI data for Non-constant combination (Belotecan","(1/10X IC50) + AZD6738) in SNU-119 cells"],"fontSize":11.5,"lineHeight":14,"align":"left","baseline":"middle"},"encoding":{"x":{"datum":-0.01,"axis":null},"y":{"datum":-2.734,"axis":null}}},
 {"data":{"name":"one"},"mark":{"type":"text","text":"*CI >1: Antagonism, CI =1: Additive, CI <1: Synergism","fontSize":11.3,"align":"right","baseline":"middle"},"encoding":{"x":{"datum":0.978,"axis":null},"y":{"datum":5.5,"axis":null}}}
]}
]
}
